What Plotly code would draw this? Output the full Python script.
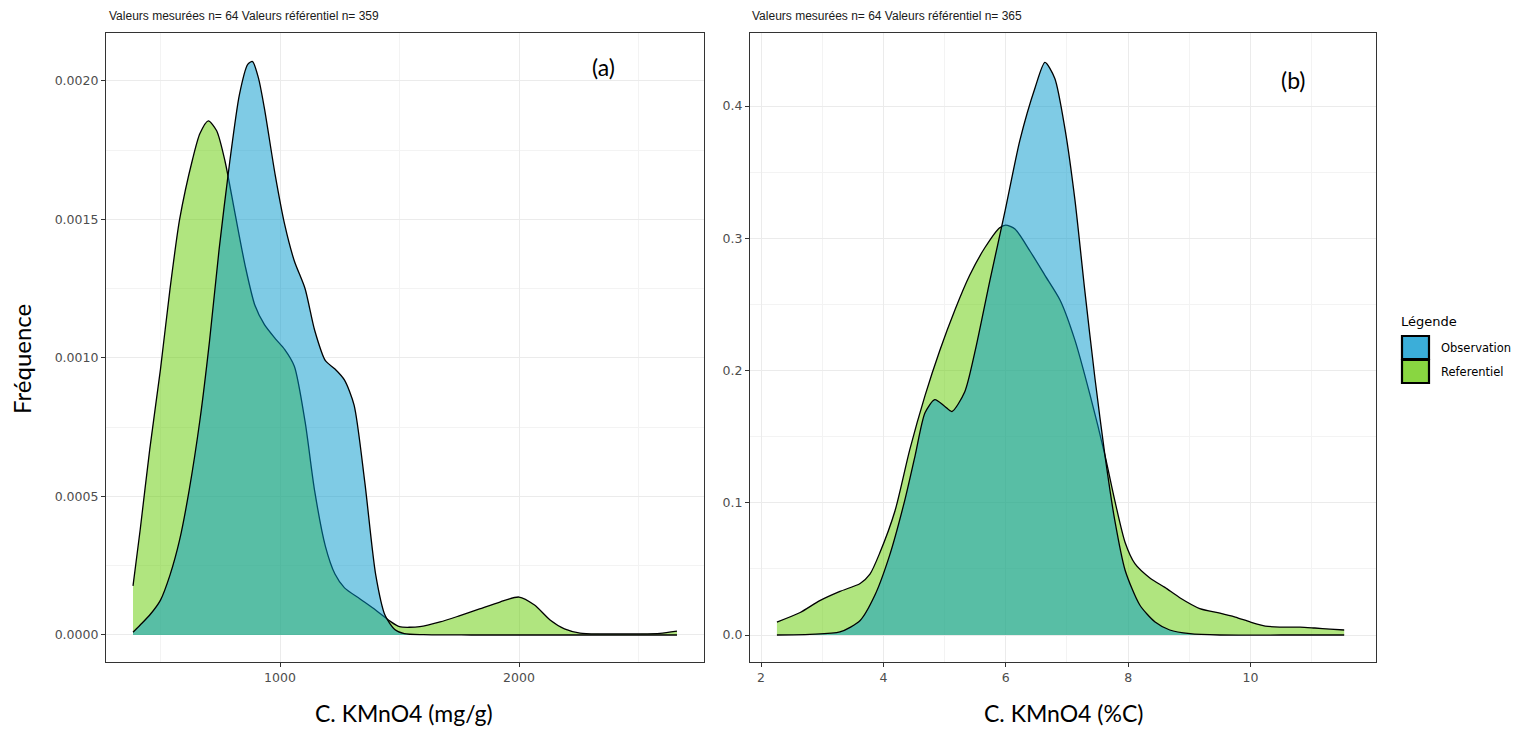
import plotly.graph_objects as go

W, H = 1538, 730

# ---- Panel (a): C. KMnO4 (mg/g) ----
ref_a_x = [385, 415, 455, 500, 540, 580, 635, 665, 700, 735, 770, 810, 855, 895, 935,
           980, 1020, 1060, 1105, 1145, 1190, 1230, 1270, 1335, 1400, 1460, 1500, 1585,
           1670, 1750, 1835, 1920, 2000, 2065, 2130, 2190, 2255, 2340, 2420, 2505, 2590, 2661]
ref_a_y = [0.000177, 0.00038, 0.00067, 0.00096, 0.00125, 0.00150, 0.00172, 0.00181,
           0.001856, 0.00182, 0.00171, 0.00153, 0.00133, 0.00119, 0.00112, 0.00107,
           0.00103, 0.00097, 0.00077, 0.00052, 0.00032, 0.00022, 0.00017, 0.00013,
           0.00009, 0.00005, 0.00003, 0.00003, 0.000047, 0.000069, 0.000094, 0.000119,
           0.000137, 0.000108, 0.000054, 0.000022, 0.000007, 0.000004, 0.000004,
           0.000004, 0.000006, 0.000014]

obs_a_x = [385, 415, 455, 500, 540, 580, 620, 665, 705, 745, 790, 830, 865, 885, 910, 935,
           980, 1020, 1060, 1105, 1145, 1190, 1230, 1270, 1310, 1355, 1400, 1440, 1480,
           1520, 1600, 1800, 2100, 2400, 2661]
obs_a_y = [0.00001, 0.000036, 0.000072, 0.000126, 0.000217, 0.000343, 0.000523,
           0.000776, 0.00106, 0.00139, 0.00171, 0.00195, 0.00206, 0.00207, 0.00201, 0.00190,
           0.00166, 0.00148, 0.00135, 0.00125, 0.00110, 0.00099, 0.00096, 0.00092,
           0.00083, 0.00055, 0.00022, 0.00007, 0.00002, 0.000005, 0.000001, 0, 0, 0, 0]

# ---- Panel (b): C. KMnO4 (%C) ----
ref_b_x = [2.26, 2.64, 2.96, 3.29, 3.62, 3.78, 3.94, 4.19, 4.43, 4.68, 4.92, 5.17, 5.41,
           5.66, 5.90, 6.00, 6.15, 6.40, 6.64, 6.89, 7.13, 7.38, 7.62, 7.78, 7.95, 8.11,
           8.36, 8.60, 8.85, 9.17, 9.50, 9.75, 10.0, 10.24, 10.48, 10.81, 11.05, 11.30, 11.53]
ref_b_y = [0.0098, 0.017, 0.026, 0.033, 0.039, 0.046, 0.062, 0.094, 0.140, 0.181, 0.215,
           0.246, 0.272, 0.293, 0.308, 0.310, 0.307, 0.290, 0.272, 0.253, 0.223, 0.181,
           0.136, 0.102, 0.070, 0.054, 0.043, 0.036, 0.028, 0.020, 0.0166, 0.0136, 0.0098,
           0.0068, 0.006, 0.006, 0.0053, 0.0045, 0.0038]

obs_b_x = [2.26, 2.8, 3.29, 3.62, 3.86, 4.10, 4.35, 4.52, 4.68, 4.84, 5.00, 5.12, 5.33,
           5.50, 5.74, 5.99, 6.23, 6.48, 6.64, 6.80, 6.97, 7.13, 7.29, 7.46, 7.62, 7.78,
           7.95, 8.19, 8.44, 8.68, 9.01, 9.5, 10.5, 11.53]
obs_b_y = [0, 0.0005, 0.0023, 0.011, 0.030, 0.060, 0.102, 0.136, 0.168, 0.178, 0.173,
           0.169, 0.184, 0.215, 0.268, 0.321, 0.374, 0.414, 0.433, 0.421, 0.382, 0.329,
           0.261, 0.193, 0.136, 0.087, 0.049, 0.0227, 0.0098, 0.0038, 0.001, 0, 0, 0]

subtitles = ["Valeurs mesurées n= 64 Valeurs référentiel n= 359",
             "Valeurs mesurées n= 64 Valeurs référentiel n= 365"]
panel_tags = ["(a)", "(b)"]
x_titles = ["C. KMnO4 (mg/g)", "C. KMnO4 (%C)"]
series_names = ["Observation", "Referentiel"]

OBS_FILL = "rgba(0,151,203,0.5)"
REF_FILL = "rgba(97,203,0,0.5)"
OBS_KEY = "#3BAED9"
REF_KEY = "#89D641"


def px_x(p):
    return p / W


def px_y(p):
    return 1 - p / H


fig = go.Figure()


def add_density(x, y, fill, xa, ya, name):
    fig.add_trace(go.Scatter(
        x=x, y=y, mode="lines", name=name, showlegend=False,
        line=dict(color="black", width=1.3, shape="spline", smoothing=0.7),
        fill="tozeroy", fillcolor=fill, xaxis=xa, yaxis=ya,
        hoverinfo="x+y",
    ))


add_density(ref_a_x, ref_a_y, REF_FILL, "x", "y", series_names[1])
add_density(obs_a_x, obs_a_y, OBS_FILL, "x", "y", series_names[0])
add_density(ref_b_x, ref_b_y, REF_FILL, "x2", "y2", series_names[1])
add_density(obs_b_x, obs_b_y, OBS_FILL, "x2", "y2", series_names[0])

tick_font = dict(family="DejaVu Sans", size=12.5, color="#4D4D4D")
axis_common = dict(
    showline=True, mirror=True, linecolor="#333333", linewidth=1.2,
    ticks="outside", ticklen=4, tickcolor="#333333", tickwidth=1,
    showgrid=True, gridcolor="#EBEBEB", gridwidth=1.1, zeroline=False,
    tickfont=tick_font,
)

y_dom = [px_y(662), px_y(33)]

fig.update_layout(
    width=W, height=H,
    margin=dict(l=0, r=0, t=0, b=0),
    paper_bgcolor="white", plot_bgcolor="white",
    showlegend=False,
    xaxis=dict(domain=[px_x(106), px_x(704)], range=[272, 2774], anchor="y",
               tickvals=[1000, 2000],
               minor=dict(tickvals=[500, 1500, 2500], showgrid=True,
                          gridcolor="#F3F3F3", gridwidth=0.6, ticks=""),
               **axis_common),
    yaxis=dict(domain=y_dom, range=[-0.0000975, 0.002173], anchor="x",
               tickvals=[0, 0.0005, 0.001, 0.0015, 0.002],
               ticktext=["0.0000", "0.0005", "0.0010", "0.0015", "0.0020"],
               minor=dict(tickvals=[0.00025, 0.00075, 0.00125, 0.00175], showgrid=True,
                          gridcolor="#F3F3F3", gridwidth=0.6, ticks=""),
               **axis_common),
    xaxis2=dict(domain=[px_x(750), px_x(1376)], range=[1.82, 12.05], anchor="y2",
                tickvals=[2, 4, 6, 8, 10],
                minor=dict(tickvals=[3, 5, 7, 9, 11], showgrid=True,
                           gridcolor="#F3F3F3", gridwidth=0.6, ticks=""),
                **axis_common),
    yaxis2=dict(domain=y_dom, range=[-0.0204, 0.4552], anchor="x2",
                tickvals=[0, 0.1, 0.2, 0.3, 0.4],
                ticktext=["0.0", "0.1", "0.2", "0.3", "0.4"],
                minor=dict(tickvals=[0.05, 0.15, 0.25, 0.35], showgrid=True,
                           gridcolor="#F3F3F3", gridwidth=0.6, ticks=""),
                **axis_common),
)

ann = []
# panel subtitles
for txt, x0 in zip(subtitles, [107, 750]):
    ann.append(dict(text=txt, x=px_x(x0), y=px_y(16), xref="paper", yref="paper",
                    xanchor="left", yanchor="middle", showarrow=False,
                    font=dict(family="Liberation Sans", size=12, color="#1A1A1A")))
# panel tags
for txt, (cx, cy) in zip(panel_tags, [(603, 67), (1293, 80)]):
    ann.append(dict(text=txt, x=px_x(cx), y=px_y(cy), xref="paper", yref="paper",
                    xanchor="center", yanchor="middle", showarrow=False,
                    font=dict(family="Lato", size=23, color="black")))
# x axis titles, kept just inside the bottom edge
for txt, cx in zip(x_titles, [404, 1063]):
    ann.append(dict(text=txt, x=px_x(cx), y=px_y(729), xref="paper", yref="paper",
                    xanchor="center", yanchor="bottom", showarrow=False,
                    font=dict(family="Lato", size=23, color="black")))
# y axis title
ann.append(dict(text="Fréquence", x=px_x(22), y=px_y(359), xref="paper", yref="paper",
                xanchor="center", yanchor="middle", showarrow=False, textangle=-90,
                font=dict(family="Lato", size=24, color="black")))

# legend
ann.append(dict(text="Légende", x=px_x(1399), y=px_y(321), xref="paper", yref="paper",
                xanchor="left", yanchor="middle", showarrow=False,
                font=dict(family="DejaVu Sans", size=13, color="black")))
shapes = []
for i, (name, col) in enumerate(zip(series_names, [OBS_KEY, REF_KEY])):
    top = 336 + i * 24
    shapes.append(dict(type="rect", xref="paper", yref="paper",
                       x0=px_x(1402), x1=px_x(1429), y0=px_y(top + 23), y1=px_y(top),
                       fillcolor=col, line=dict(color="black", width=2.2)))
    ann.append(dict(text=name, x=px_x(1439), y=px_y(top + 12), xref="paper", yref="paper",
                    xanchor="left", yanchor="middle", showarrow=False,
                    font=dict(family="DejaVu Sans", size=11.5, color="black")))

fig.update_layout(annotations=ann, shapes=shapes)

fig.write_html("out.html")
